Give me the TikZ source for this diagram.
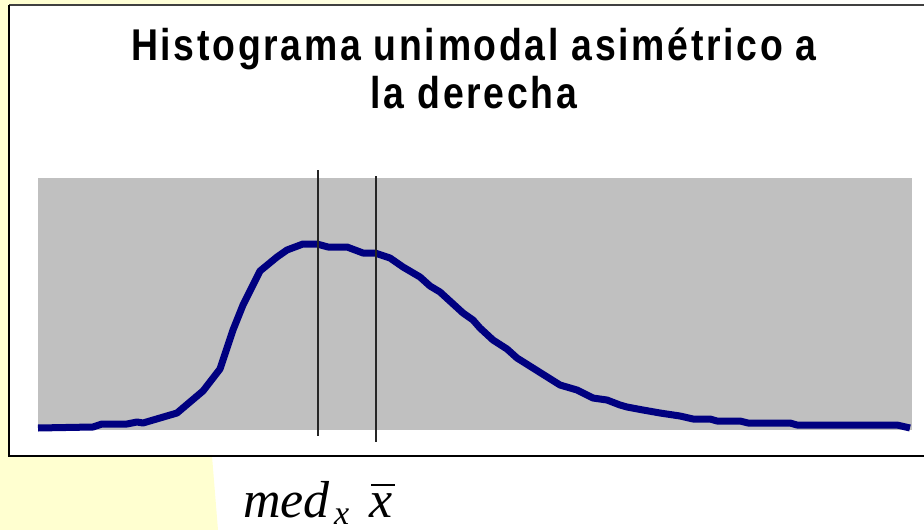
\documentclass[tikz,border=0pt]{standalone}
\usepackage{fontspec}
\setmainfont{Liberation Serif}
\newfontfamily\titlefont[FakeStretch=0.84,LetterSpace=6]{Liberation Sans}
\usetikzlibrary{calc}
\definecolor{paleyellow}{RGB}{255,255,208}
\definecolor{plotgray}{RGB}{192,192,192}
\definecolor{curveblue}{RGB}{0,0,128}
\definecolor{framegray}{RGB}{64,64,64}
\tikzset{
  title/.style={font=\titlefont\bfseries\fontsize{44.5}{48}\selectfont,anchor=base},
  symb/.style={font=\itshape\fontsize{52}{60}\selectfont,anchor=base west,inner sep=0pt},
  marker/.style={line width=1.3pt,black!85}
}
\begin{document}
\begin{tikzpicture}[x=1pt,y=-1pt]
\useasboundingbox (0,0) rectangle (924,530);
\fill[white] (0,0) rectangle (924,530);
\shade[left color=paleyellow,right color=white] (0,0) rectangle (924,5);
\fill[paleyellow] (0,0) rectangle (9,530);
\fill[paleyellow] (0,456) -- (212,456) -- (218,530) -- (0,530) -- cycle;
\draw[line width=1.5pt,framegray] (940,5) -- (9,5);
\draw[line width=1.5pt] (9,5) -- (9,456) -- (940,456);
\fill[plotgray] (38,178) rectangle (912,430);
\node[title] (t1) at (474,60) {Histograma unimodal asimétrico a};
\node[title] (t2) at (474,108) {la derecha};
\draw[line width=7pt,curveblue,line join=round] plot coordinates {
  (38,428) (93,427) (102,424) (127,424) (137,422) (143,423) (177,413)
  (203,391) (220,369) (233,330) (243,305) (260,271) (277,257) (287,250)
  (303,244) (317,244) (328,247) (347,247) (363,253) (375,253) (390,258)
  (403,267) (420,277) (430,286) (440,292) (463,313) (473,320) (480,328)
  (493,340) (507,349) (517,358) (560,385) (577,390) (593,398) (607,400)
  (620,405) (627,407) (643,410) (660,413) (680,416) (693,419) (710,419)
  (717,421) (740,421) (748,423) (790,423) (797,425) (897,425) (910,428)};
\draw[marker] (318,170) -- (318,436);
\draw[marker] (376,176) -- (376,442);
\node[symb] (med) at (243,517) {med};
\node[symb,font=\itshape\fontsize{34}{40}\selectfont] (sub) at (334,524) {x};
\node[symb] (xbar) at (369,517) {x};
\draw[line width=2.2pt] ($(xbar.base west)+(2,-32)$) -- ($(xbar.base east)+(3,-32)$);
\end{tikzpicture}
\end{document}
